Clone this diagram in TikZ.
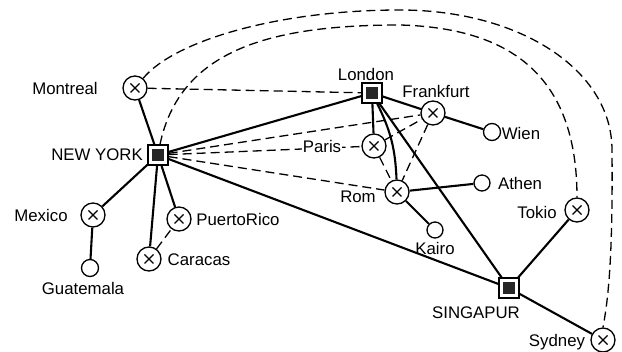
\documentclass[tikz,border=0pt]{standalone}
\usepackage{fontspec}
\setmainfont{Liberation Sans}
\usetikzlibrary{backgrounds}
\begin{document}
\begin{tikzpicture}[x=1pt,y=-1pt,
  lbl/.style={font=\fontsize{16.8}{19}\selectfont, inner sep=1pt},
  xcity/.style={circle, draw, line width=1.3pt, minimum size=24pt, inner sep=0pt, fill=white,
    path picture={\draw[line width=1.1pt]
      ([shift={(-4.5pt,-4.5pt)}]path picture bounding box.center) -- ([shift={(4.5pt,4.5pt)}]path picture bounding box.center)
      ([shift={(-4.5pt,4.5pt)}]path picture bounding box.center) -- ([shift={(4.5pt,-4.5pt)}]path picture bounding box.center);}},
  smallcity/.style={circle, draw, line width=1.3pt, minimum size=17pt, inner sep=0pt, fill=white},
  hub/.style={rectangle, draw, line width=1.3pt, minimum size=20pt, inner sep=0pt, fill=white,
    path picture={\fill[black!85] (path picture bounding box.center) +(-6pt,-6pt) rectangle +(6pt,6pt);}},
  route/.style={line width=2.1pt},
  flight/.style={line width=1.3pt, dash pattern=on 9pt off 5pt}
]
\useasboundingbox (0,0) rectangle (622,352);

% cities
\node[xcity] (montreal) at (135,88) {};
\node[hub] (ny) at (158,155) {};
\node[hub] (london) at (372,93) {};
\node[xcity] (frankfurt) at (433,113) {};
\node[smallcity] (wien) at (492,132) {};
\node[xcity] (paris) at (374,146) {};
\node[xcity] (rom) at (397,192) {};
\node[smallcity, minimum size=16pt] (athen) at (482,183) {};
\node[smallcity, minimum size=16pt] (kairo) at (435,230) {};
\node[xcity] (tokio) at (577,210) {};
\node[hub] (singapur) at (509,288) {};
\node[xcity] (sydney) at (603,340) {};
\node[xcity] (mexico) at (93,215) {};
\node[smallcity] (guatemala) at (90,268) {};
\node[xcity] (puertorico) at (179,219) {};
\node[xcity] (caracas) at (149,259) {};

\coordinate (innertop) at (400,25);
\coordinate (outertop) at (400,10);
\coordinate (outerright) at (612,150);

\begin{scope}[on background layer]
  % solid routes
  \draw[route] (montreal) -- (ny);
  \draw[route] (ny) -- (london);
  \draw[route] (ny) -- (mexico);
  \draw[route] (ny) -- (caracas);
  \draw[route] (ny) -- (puertorico);
  \draw[route] (ny) -- (singapur);
  \draw[route] (mexico) -- (guatemala);
  \draw[route] (london) -- (frankfurt);
  \draw[route] (frankfurt) -- (wien);
  \draw[route] (london) -- (paris);
  \draw[route] (london) to[bend left=12] (rom);
  \draw[route] (london) -- (singapur);
  \draw[route] (rom) -- (athen);
  \draw[route] (rom) -- (kairo);
  \draw[route] (singapur) -- (tokio);
  \draw[route] (singapur) -- (sydney);
  % dashed
  \draw[flight] (montreal) -- (london);
  \draw[flight] (ny) -- (frankfurt);
  \draw[flight] (ny) -- (paris);
  \draw[flight] (ny) -- (rom);
  \draw[flight] (paris) -- (frankfurt);
  \draw[flight] (paris) -- (rom);
  \draw[flight] (frankfurt) -- (rom);
  \draw[flight] (caracas) -- (puertorico);
  \draw[flight] ([xshift=2pt]ny.north) .. controls (180,50) and (270,25) .. (innertop)
        .. controls (510,28) and (577,75) .. (tokio.north);
  \draw[flight] (montreal.50) .. controls (175,40) and (280,10) .. (outertop)
        .. controls (520,10) and (612,70) .. (outerright)
        .. controls (613,260) and (608,300) .. (sydney.north);
\end{scope}

% labels
\node[lbl] (lmontreal) at (65,88) {Montreal};
\node[lbl] (lny) at (97,155) {NEW YORK};
\node[lbl] (llondon) at (366,74) {London};
\node[lbl] (lfrankfurt) at (436,91) {Frankfurt};
\node[lbl] (lwien) at (521,133) {Wien};
\node[lbl, fill=white] (lparis) at (322,146) {Paris};
\node[lbl] (lrom) at (358,197) {Rom};
\node[lbl] (lathen) at (520,183) {Athen};
\node[lbl] (lkairo) at (435,248) {Kairo};
\node[lbl] (ltokio) at (537,212) {Tokio};
\node[lbl] (lsingapur) at (476,313) {SINGAPUR};
\node[lbl] (lsydney) at (557,342) {Sydney};
\node[lbl] (lmexico) at (41,215) {Mexico};
\node[lbl] (lguatemala) at (83,288) {Guatemala};
\node[lbl] (lpuertorico) at (238,219) {PuertoRico};
\node[lbl] (lcaracas) at (199,260) {Caracas};
\end{tikzpicture}
\end{document}
